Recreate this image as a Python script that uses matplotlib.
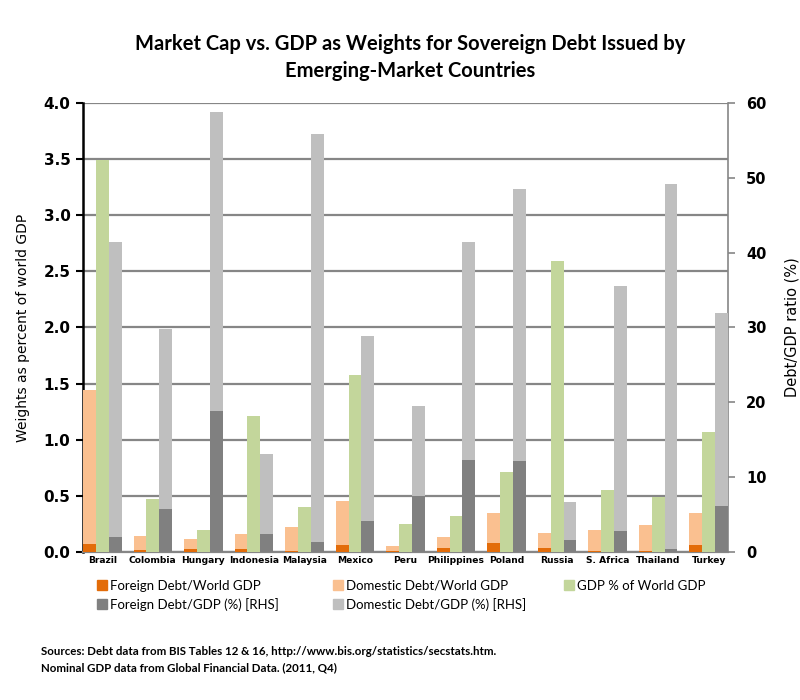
import numpy as np
import matplotlib.pyplot as plt
from matplotlib.patches import Patch

countries = ["Brazil", "Colombia", "Hungary", "Indonesia", "Malaysia", "Mexico", "Peru",
             "Philippines", "Poland", "Russia", "S. Africa", "Thailand", "Turkey"]

# left axis: weights as percent of world GDP
foreign_world = [0.069, 0.018, 0.027, 0.027, 0.005, 0.063, 0.010, 0.036, 0.078, 0.033, 0.006, 0.003, 0.063]
domestic_world = [1.375, 0.125, 0.086, 0.134, 0.218, 0.392, 0.044, 0.098, 0.268, 0.134, 0.188, 0.235, 0.283]
gdp_world = [3.49, 0.47, 0.194, 1.214, 0.40, 1.578, 0.247, 0.319, 0.71, 2.595, 0.55, 0.49, 1.069]

# right axis: debt/GDP ratio (%)
foreign_gdp = [2.0, 5.75, 18.8, 2.4, 1.3, 4.15, 7.45, 12.26, 12.1, 1.56, 2.77, 0.36, 6.1]
domestic_gdp = [39.5, 24.05, 40.0, 10.7, 54.6, 24.65, 12.05, 29.24, 36.5, 5.09, 32.73, 48.84, 25.9]

c_forw = "#E36C09"
c_domw = "#FAC090"
c_gdp = "#C3D69B"
c_forg = "#808080"
c_domg = "#BFBFBF"

fig = plt.figure(figsize=(8, 7), dpi=100)
ax = fig.add_axes([0.10375, 0.2119, 0.80625, 0.6405])
ax2 = ax.twinx()

x = np.arange(len(countries))
w = 0.254

ax.bar(x - w, foreign_world, w, color=c_forw, zorder=3)
ax.bar(x - w, domestic_world, w, bottom=foreign_world, color=c_domw, zorder=3)
ax.bar(x, gdp_world, w, color=c_gdp, zorder=3)
ax2.bar(x + w, foreign_gdp, w, color=c_forg, zorder=3)
ax2.bar(x + w, domestic_gdp, w, bottom=foreign_gdp, color=c_domg, zorder=3)

ax.set_xlim(-1.5 * w, len(countries) - 1 + 1.5 * w)
ax.set_ylim(0, 4.0)
ax2.set_ylim(0, 60)
ax.set_yticks(np.arange(0, 4.01, 0.5))
ax.set_yticklabels([f"{v:.1f}" for v in np.arange(0, 4.01, 0.5)], fontsize=11, fontweight='bold')
ax2.set_yticks(np.arange(0, 61, 10))
ax2.set_yticklabels([str(v) for v in range(0, 61, 10)], fontsize=10.5, fontweight='bold')

ax.set_xticks(x)
ax.set_xticklabels(countries, fontsize=6.6, fontweight='bold')
ax.tick_params(axis='x', length=0, pad=3)
ax.tick_params(axis='y', direction='out', length=5, width=1.5, color='black', pad=4)
ax2.tick_params(axis='y', direction='out', length=5, width=1.2, color='#868686', pad=8)

ax.yaxis.grid(True, color='#868686', linewidth=1.6, zorder=0)
ax.set_axisbelow(True)

for a in (ax, ax2):
    a.spines['top'].set_visible(False)
ax.spines['left'].set_linewidth(1.8)
ax.spines['left'].set_color('black')
ax.spines['bottom'].set_color('#868686')
ax.spines['bottom'].set_linewidth(1.6)
ax2.spines['left'].set_visible(False)
ax2.spines['bottom'].set_visible(False)
ax.spines['right'].set_visible(False)
ax2.spines['right'].set_color('#868686')
ax2.spines['right'].set_linewidth(1.2)

ax.set_ylabel("Weights as percent of world GDP", fontsize=10, labelpad=10)
ax2.set_ylabel("Debt/GDP ratio (%)", fontsize=10.5, labelpad=13)

fig.text(0.5125, 0.937, "Market Cap vs. GDP as Weights for Sovereign Debt Issued by",
         ha='center', va='center', fontsize=14.5, fontweight='bold', family='Lato')
fig.text(0.5125, 0.899, "Emerging-Market Countries",
         ha='center', va='center', fontsize=14.5, fontweight='bold', family='Lato')

# legend, three columns placed separately
leg_cols = [
    ([Patch(color=c_forw), Patch(color=c_forg)], ["Foreign Debt/World GDP", "Foreign Debt/GDP (%) [RHS]"], 0.121),
    ([Patch(color=c_domw), Patch(color=c_domg)], ["Domestic Debt/World GDP", "Domestic Debt/GDP (%) [RHS]"], 0.416),
    ([Patch(color=c_gdp)], ["GDP % of World GDP"], 0.705),
]
for handles, labels, xpos in leg_cols:
    fig.legend(handles, labels, loc='upper left', bbox_to_anchor=(xpos, 0.172), frameon=False,
               handlelength=0.75, handleheight=0.75, handletextpad=0.25, labelspacing=0.45,
               borderaxespad=0, borderpad=0, prop={'family': 'Lato', 'size': 9.5})

fig.text(0.051, 0.069, "Sources: Debt data from BIS Tables 12 & 16, http://www.bis.org/statistics/secstats.htm.",
         ha='left', va='center', fontsize=8.3, fontweight='bold', family='Lato')
fig.text(0.051, 0.046, "Nominal GDP data from Global Financial Data. (2011, Q4)",
         ha='left', va='center', fontsize=8.3, fontweight='bold', family='Lato')

fig.savefig("out.png", dpi=100)
